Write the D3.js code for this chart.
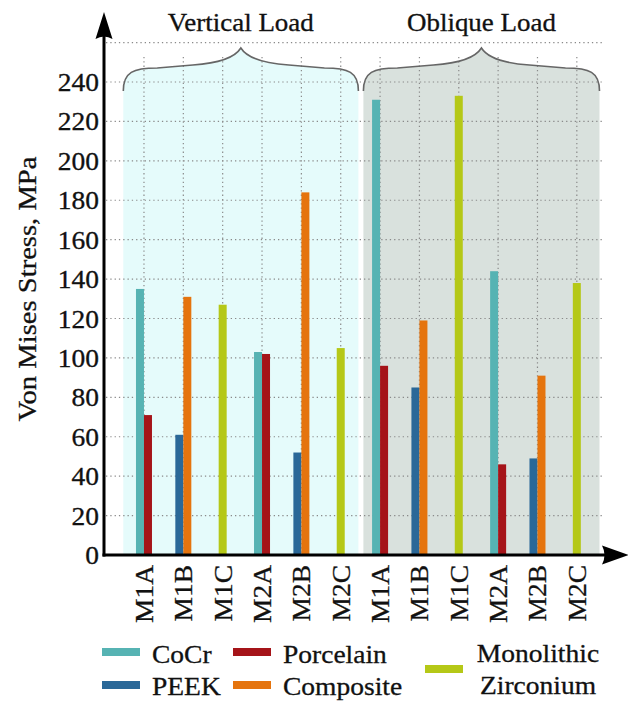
<!DOCTYPE html>
<html>
<head>
<meta charset="utf-8">
<script src="https://cdn.jsdelivr.net/npm/d3@7"></script>
<style>
  html, body { margin: 0; padding: 0; background: #ffffff; }
  svg { display: block; }
  text { font-family: "Liberation Serif", "Times New Roman", serif; fill: #111; stroke: #111; stroke-width: 0.3px; }
</style>
</head>
<body>
<svg id="chart" width="628" height="702"></svg>
<script>
// Von Mises stress per model, under two loading conditions
const loads = ["Vertical Load", "Oblique Load"];
const models = ["M1A", "M1B", "M1C", "M2A", "M2B", "M2C"];
const materials = ["CoCr", "PEEK", "Porcelain", "Composite", "Monolithic Zirconium"];
const materialColors = ["#56b3b3", "#2a6898", "#a51419", "#e5740e", "#b5c817"];

// Which materials appear in each model (pairs sit side by side)
const modelMaterials = [
  ["CoCr", "Porcelain"],
  ["PEEK", "Composite"],
  ["Monolithic Zirconium"],
  ["CoCr", "Porcelain"],
  ["PEEK", "Composite"],
  ["Monolithic Zirconium"]
];

// Stress values (MPa), same order as modelMaterials
const verticalValues = [[135, 71], [61, 131], [127], [103, 102], [52, 184], [105]];
const obliqueValues  = [[231, 96], [85, 119], [233], [144, 46], [49, 91], [138]];

const yTicks = [0, 20, 40, 60, 80, 100, 120, 140, 160, 180, 200, 220, 240];
const yMax = 260;

const svg = d3.select("#chart");

const plot = { left: 104, bottom: 555, top: 42.6, bandLeft: 124.3, bandRight: 596.5 };

const y = d3.scaleLinear().domain([0, yMax]).range([plot.bottom, plot.top]);

// one band per (load, model) slot
const slots = [];
loads.forEach((load, li) => models.forEach((m, mi) => slots.push({ load, li, model: m, mi, key: li + "-" + m })));
const x = d3.scaleBand().domain(slots.map(d => d.key)).range([plot.bandLeft, plot.bandRight]).padding(0);
const color = d3.scaleOrdinal().domain(materials).range(materialColors);

const barW = 8;
const groupColors = ["#e5fbfb", "#d9e1dd"];
const groupInset = [[-1, -2], [3, 3]];
const braceTip = 48, braceFlat = 68, braceEnd = 91;

function bracePath(x0, x1) {
  const xm = (x0 + x1) / 2;
  return `M${x0},${braceEnd}` +
    `C${x0},${braceFlat + 4} ${x0 + 10},${braceFlat} ${x0 + 34},${braceFlat}` +
    `L${xm - 48},${braceFlat - 3}` +
    `C${xm - 18},${braceFlat - 5} ${xm - 5},${braceFlat - 12} ${xm},${braceTip}` +
    `C${xm + 5},${braceFlat - 12} ${xm + 18},${braceFlat - 5} ${xm + 48},${braceFlat - 3}` +
    `L${x1 - 34},${braceFlat}` +
    `C${x1 - 10},${braceFlat} ${x1},${braceFlat + 4} ${x1},${braceEnd}`;
}

function groupExtent(li) {
  const first = x(li + "-" + models[0]);
  const last = x(li + "-" + models[models.length - 1]) + x.bandwidth();
  return [first + groupInset[li][0], last + groupInset[li][1]];
}

// group backgrounds with brace tops
loads.forEach((load, li) => {
  const [x0, x1] = groupExtent(li);
  svg.append("path")
    .attr("d", bracePath(x0, x1) + `L${x1},${plot.bottom}L${x0},${plot.bottom}Z`)
    .attr("fill", groupColors[li]);
});

// dotted grid
const grid = svg.append("g").attr("stroke", "#8a8a8a").attr("stroke-width", 1.2)
  .attr("stroke-dasharray", "1.3,3").attr("fill", "none");
grid.selectAll("line.h").data(yTicks.slice(1).concat([yMax])).join("line")
  .attr("x1", plot.left + 2).attr("x2", 602)
  .attr("y1", d => y(d)).attr("y2", d => y(d));
grid.selectAll("line.v").data(slots).join("line")
  .attr("x1", d => x(d.key) + x.bandwidth() / 2).attr("x2", d => x(d.key) + x.bandwidth() / 2)
  .attr("y1", 57).attr("y2", plot.bottom);

// braces and group titles
loads.forEach((load, li) => {
  const [x0, x1] = groupExtent(li);
  svg.append("path").attr("d", bracePath(x0, x1))
    .attr("fill", "none").attr("stroke", "#666").attr("stroke-width", 1.6);
  svg.append("text").attr("class", "stretch")
    .attr("x", (x0 + x1) / 2).attr("y", 31)
    .attr("text-anchor", "middle").attr("font-size", 24.5).text(load);
});

// bars
const bars = [];
slots.forEach(s => {
  const vals = s.li === 0 ? verticalValues[s.mi] : obliqueValues[s.mi];
  const mats = modelMaterials[s.mi];
  const cx = x(s.key) + x.bandwidth() / 2;
  const start = cx - (mats.length * barW) / 2;
  mats.forEach((m, k) => bars.push({ material: m, value: vals[k], x: start + k * barW }));
});
svg.append("g").selectAll("rect").data(bars).join("rect")
  .attr("x", d => d.x).attr("width", barW)
  .attr("y", d => y(d.value)).attr("height", d => y(0) - y(d.value))
  .attr("fill", d => color(d.material));

// y tick labels
svg.append("g").selectAll("text").data(yTicks).join("text")
  .attr("class", "stretch")
  .attr("x", 99).attr("y", d => y(d) + 9)
  .attr("text-anchor", "end").attr("font-size", 25).text(d => d);

// y axis title
svg.append("text").attr("class", "stretch")
  .attr("transform", `translate(36,289) rotate(-90)`)
  .attr("text-anchor", "middle").attr("font-size", 26)
  .text("Von Mises Stress, MPa");

// x tick labels (rotated)
svg.append("g").selectAll("text").data(slots).join("text")
  .attr("class", "stretch")
  .attr("transform", d => `translate(${x(d.key) + x.bandwidth() / 2 + 9},565) rotate(-90)`)
  .attr("text-anchor", "end").attr("font-size", 25).text(d => d.model);

// axes with arrow heads
svg.append("line").attr("x1", plot.left).attr("x2", plot.left)
  .attr("y1", plot.bottom + 1.5).attr("y2", 30).attr("stroke", "#000").attr("stroke-width", 3);
svg.append("line").attr("x1", plot.left - 1.5).attr("x2", 612)
  .attr("y1", plot.bottom).attr("y2", plot.bottom).attr("stroke", "#000").attr("stroke-width", 3);
svg.append("path")
  .attr("d", `M${plot.left},12 L${plot.left + 8.5},39 Q${plot.left},34 ${plot.left - 8.5},39 Z`)
  .attr("fill", "#000");
svg.append("path")
  .attr("d", `M629,${plot.bottom} L602,${plot.bottom - 9.5} Q607,${plot.bottom} 602,${plot.bottom + 9.5} Z`)
  .attr("fill", "#000");

// legend
const legendItems = [
  { m: "CoCr", sx: 102, sy: 652, lines: ["CoCr"], tx: 152, ty: [663], anchor: "start" },
  { m: "PEEK", sx: 102, sy: 685, lines: ["PEEK"], tx: 152, ty: [695], anchor: "start" },
  { m: "Porcelain", sx: 233, sy: 652, lines: ["Porcelain"], tx: 283, ty: [663], anchor: "start" },
  { m: "Composite", sx: 233, sy: 685, lines: ["Composite"], tx: 283, ty: [695], anchor: "start" },
  { m: "Monolithic Zirconium", sx: 425, sy: 669, lines: ["Monolithic", "Zirconium"], tx: 538, ty: [662, 694], anchor: "middle" }
];
const lg = svg.append("g");
legendItems.forEach(it => {
  lg.append("rect").attr("x", it.sx).attr("y", it.sy - 4).attr("width", 38).attr("height", 8)
    .attr("fill", color(it.m));
  it.lines.forEach((t, i) => lg.append("text").attr("class", "stretch")
    .attr("x", it.tx).attr("y", it.ty[i]).attr("text-anchor", it.anchor)
    .attr("font-size", 25).text(t));
});

// widen the serif glyphs slightly
svg.selectAll("text.stretch").each(function () {
  const w = this.getComputedTextLength();
  d3.select(this).attr("textLength", w * 1.1).attr("lengthAdjust", "spacingAndGlyphs");
});
</script>
</body>
</html>
